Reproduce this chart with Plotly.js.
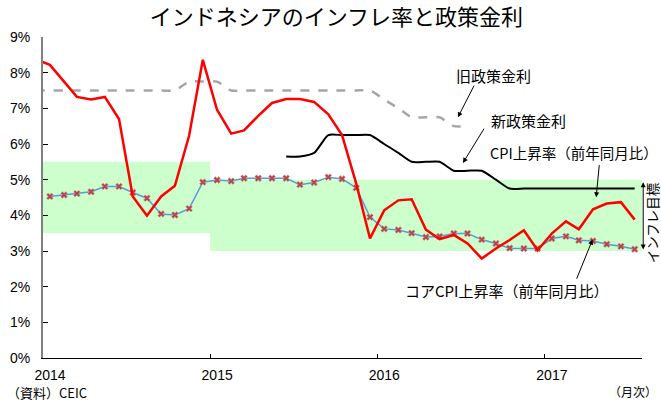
<!DOCTYPE html>
<html>
<head>
<meta charset="utf-8">
<script src="https://cdn.plot.ly/plotly-3.0.1.min.js"></script>
<style>html,body{margin:0;padding:0;background:#fff;}#chart{width:661px;height:401px;}</style>
</head>
<body>
<div id="chart"></div>
<script>
// Months from Dec 2013 to Jul 2017 (mid-month positions)
var months = [
  '2013-12',
  '2014-01','2014-02','2014-03','2014-04','2014-05','2014-06','2014-07','2014-08','2014-09','2014-10','2014-11','2014-12',
  '2015-01','2015-02','2015-03','2015-04','2015-05','2015-06','2015-07','2015-08','2015-09','2015-10','2015-11','2015-12',
  '2016-01','2016-02','2016-03','2016-04','2016-05','2016-06','2016-07','2016-08','2016-09','2016-10','2016-11','2016-12',
  '2017-01','2017-02','2017-03','2017-04','2017-05','2017-06','2017-07'
];
// CPI inflation (YoY, %)
var cpi = [
  8.38,
  8.22,7.75,7.32,7.25,7.32,6.70,4.53,3.99,4.53,4.83,6.23,8.36,
  6.96,6.29,6.38,6.79,7.15,7.26,7.26,7.18,6.83,6.25,4.89,3.35,
  4.14,4.42,4.45,3.60,3.33,3.45,3.21,2.79,3.07,3.31,3.58,3.02,
  3.49,3.83,3.61,4.17,4.33,4.37,3.88
];
// Core CPI inflation (YoY, %)
var coreCpi = [
  null,
  4.53,4.57,4.61,4.66,4.81,4.81,4.64,4.48,4.04,4.01,4.19,4.93,
  4.99,4.96,5.04,5.04,5.04,5.04,4.86,4.92,5.07,5.02,4.77,3.95,
  3.62,3.59,3.50,3.39,3.41,3.49,3.49,3.32,3.21,3.08,3.07,3.07,
  3.35,3.41,3.30,3.28,3.19,3.13,3.05
];
// Old policy rate (BI rate, %)
var oldRate = [
  7.5,
  7.5,7.5,7.5,7.5,7.5,7.5,7.5,7.5,7.5,7.5,7.75,7.75,
  7.75,7.5,7.5,7.5,7.5,7.5,7.5,7.5,7.5,7.5,7.5,7.5,
  7.25,7.0,6.75,6.75,6.75,6.5,6.5,null,null,null,null,null,
  null,null,null,null,null,null,null
];
// New policy rate (7-day reverse repo, %)
var newRate = [
  null,
  null,null,null,null,null,null,null,null,null,null,null,null,
  null,null,null,null,null,5.65,5.65,5.75,6.25,6.25,6.25,6.25,
  6.0,5.75,5.5,5.5,5.5,5.25,5.25,5.25,5.0,4.75,4.75,4.75,
  4.75,4.75,4.75,4.75,4.75,4.75,4.75
];
// Inflation target bands
var bandStart = ['2014-01-01','2015-01-01'];
var bandEnd   = ['2015-01-01','2017-08-01'];
var bandLow   = [3.5, 3.0];
var bandHigh  = [5.5, 5.0];
// Axis ticks
var tickVals = ['2014-01-01','2015-01-01','2016-01-01','2017-01-01'];
var tickText = ['2014','2015','2016','2017'];

var xs = months.map(function(m){ return m + '-16'; });

var jp = '"Noto Sans CJK JP", "Noto Sans", sans-serif';
var num = '"Liberation Sans", Arial, sans-serif';

var traces = [
  {x: xs, y: oldRate, type: 'scatter', mode: 'lines', connectgaps: false,
   line: {color: '#a6a6a6', width: 2.5, dash: 'dash', shape: 'spline', smoothing: 0.6}, hoverinfo: 'skip'},
  {x: xs, y: newRate, type: 'scatter', mode: 'lines',
   line: {color: '#000000', width: 2, shape: 'spline', smoothing: 0.6}, hoverinfo: 'skip'},
  {x: xs, y: coreCpi, type: 'scatter', mode: 'lines+markers',
   line: {color: '#5b9bd5', width: 1.5},
   marker: {symbol: 'x', size: 6, color: '#b0484a', line: {color: '#e0a0a0', width: 0.5}}, hoverinfo: 'skip'},
  {x: xs, y: cpi, type: 'scatter', mode: 'lines',
   line: {color: '#ff0000', width: 2.5}, hoverinfo: 'skip'}
];

var shapes = bandStart.map(function(s, i){
  return {type: 'rect', xref: 'x', yref: 'y', x0: s, x1: bandEnd[i], y0: bandLow[i], y1: bandHigh[i],
          fillcolor: '#ccffcc', line: {width: 0}, layer: 'below'};
});

function arrow(hx, hy, tx, ty){
  return {x: hx, y: hy, ax: tx, ay: ty, xref: 'x', yref: 'y', axref: 'x', ayref: 'y',
          text: '', showarrow: true, arrowhead: 2, arrowsize: 1, arrowwidth: 1, arrowcolor: '#000'};
}
function label(t, x, y, size){
  return {x: x, y: y, xref: 'x', yref: 'y', text: t, showarrow: false,
          xanchor: 'center', yanchor: 'middle', font: {family: jp, size: size, color: '#000'}};
}

var annotations = [
  label('旧政策金利', '2016-09-11', 7.91, 15),
  arrow('2016-06-25', 6.75, '2016-08-01', 7.68),
  label('新政策金利', '2016-11-27', 6.66, 15),
  arrow('2016-07-06', 5.47, '2016-08-23', 6.47),
  label('CPI上昇率（前年同月比）', '2017-03-06', 5.76, 14.5),
  arrow('2017-04-23', 4.51, '2017-04-30', 5.45),
  label('コアCPI上昇率（前年同月比）', '2016-10-10', 1.88, 15),
  arrow('2017-04-15', 3.32, '2017-03-10', 2.18),
  // inflation target double arrow at the right edge of the plot
  {x: 1.002, y: 4.93, xref: 'paper', yref: 'y', ax: 0, ay: 3.0, axref: 'pixel', ayref: 'y',
   text: '', showarrow: true, arrowhead: 2, startarrowhead: 2, arrowside: 'end+start',
   arrowsize: 1, arrowwidth: 1, arrowcolor: '#000'},
  {x: 1.018, y: 3.8, xref: 'paper', yref: 'y', text: 'インフレ目標', textangle: -90, showarrow: false,
   xanchor: 'center', yanchor: 'middle', font: {family: jp, size: 13.5, color: '#000'}},
  {x: -0.063, y: -0.108, xref: 'paper', yref: 'paper', text: '（資料）CEIC', showarrow: false,
   xanchor: 'left', yanchor: 'middle', font: {family: jp, size: 13, color: '#000'}},
  {x: 0.985, y: -0.104, xref: 'paper', yref: 'paper', text: '（月次）', showarrow: false,
   xanchor: 'center', yanchor: 'middle', font: {family: jp, size: 12, color: '#000'}}
];

var layout = {
  width: 661, height: 401,
  margin: {l: 43, r: 19, t: 37, b: 43},
  paper_bgcolor: '#ffffff', plot_bgcolor: '#ffffff',
  showlegend: false,
  title: {text: 'インドネシアのインフレ率と政策金利', xref: 'container', yref: 'container',
          x: 0.509, y: 0.957, xanchor: 'center', yanchor: 'middle',
          font: {family: jp, size: 22, color: '#000'}},
  xaxis: {type: 'date', range: ['2014-01-01', '2017-08-01'], tickvals: tickVals, ticktext: tickText,
          ticks: 'inside', ticklen: 4, tickcolor: '#000', showline: true, linecolor: '#000', linewidth: 1,
          showgrid: false, zeroline: false, ticklabelshift: 7, ticklabelstandoff: 4,
          tickfont: {family: num, size: 14, color: '#000'}},
  yaxis: {range: [0, 9], tick0: 0, dtick: 1, ticksuffix: '%', ticks: 'inside', ticklen: 5, tickcolor: '#000',
          showline: true, linecolor: '#808080', linewidth: 2, showgrid: false, zeroline: false,
          ticklabelstandoff: 8, tickfont: {family: num, size: 14, color: '#000'}},
  shapes: shapes,
  annotations: annotations
};

Plotly.newPlot('chart', traces, layout, {staticPlot: true, displayModeBar: false});
</script>
</body>
</html>
